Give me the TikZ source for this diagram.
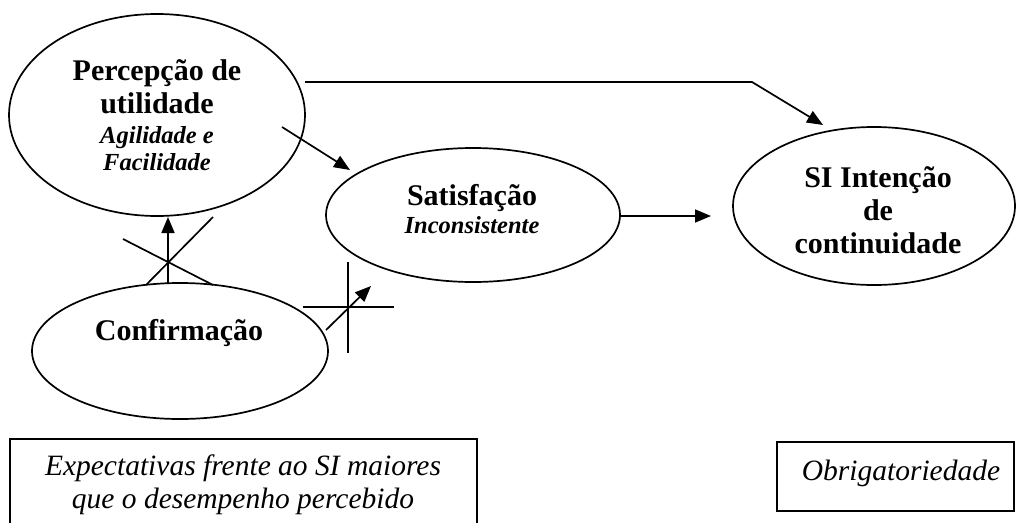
\documentclass[tikz,border=0pt]{standalone}
\usepackage{fontspec}
\setmainfont{Liberation Serif}
\usetikzlibrary{shapes.geometric,arrows.meta}
\begin{document}
\begin{tikzpicture}[x=1pt,y=-1pt,
  oval/.style={draw,ellipse,line width=1.7pt,inner sep=0pt},
  bt/.style={anchor=base,inner sep=0pt,font=\fontsize{30}{33}\selectfont\bfseries},
  bit/.style={anchor=base,inner sep=0pt,font=\fontsize{24.5}{27}\selectfont\bfseries\itshape},
  itx/.style={anchor=base,inner sep=0pt,font=\fontsize{29.5}{33}\selectfont\itshape},
  arr/.style={line width=1.7pt,-{Triangle[length=16pt,width=13pt]}},
  ln/.style={line width=1.7pt},
  boxx/.style={draw,line width=1.7pt}]
\useasboundingbox (0,0) rectangle (1016,522);
\clip (0,0) rectangle (1016,522);
% ellipses
\node[oval,minimum width=296pt,minimum height=202pt] (pu) at (157,115) {};
\node[oval,minimum width=294pt,minimum height=134pt] (sat) at (473,215) {};
\node[oval,minimum width=282pt,minimum height=158pt] (si) at (874,206) {};
\node[oval,minimum width=296pt,minimum height=136pt] (conf) at (180,351) {};
% texts
\node[bt] (t1) at (157,80) {Percepção de};
\node[bt] (t2) at (157,113) {utilidade};
\node[bit] (t3) at (157,143) {Agilidade e};
\node[bit] (t4) at (157,170) {Facilidade};
\node[bt] (t5) at (472,205) {Satisfação};
\node[bit] (t6) at (472,233) {Inconsistente};
\node[bt] (t7) at (878,187) {SI Intenção};
\node[bt] (t8) at (878,220) {de};
\node[bt] (t9) at (878,253) {continuidade};
\node[bt] (t10) at (179,340) {Confirmação};
% boxes
\draw[boxx] (10,560) -- (10,439) -- (477,439) -- (477,560);
\node[itx] (b1) at (243,475) {Expectativas frente ao SI maiores};
\node[itx] (b2) at (243,508) {que o desempenho percebido};
\node[boxx,minimum width=237pt,minimum height=69pt,inner sep=0pt] (ob) at (895.5,476.5) {};
\node[itx] (b3) at (901,480) {Obrigatoriedade};
% connector coordinates
\coordinate (a1s) at (305,82);
\coordinate (a1k) at (752,82);
\coordinate (a1e) at (823,125);
\coordinate (a2s) at (282,127);
\coordinate (a2e) at (350,170);
\coordinate (a3s) at (620,216);
\coordinate (a3e) at (711,216);
\coordinate (a4s) at (168,283);
\coordinate (a4e) at (168,217);
\coordinate (a5s) at (326,330);
\coordinate (a5e) at (371,286);
% connectors
\draw[arr] (a1s) -- (a1k) -- (a1e);
\draw[arr] (a2s) -- (a2e);
\draw[arr] (a3s) -- (a3e);
\draw[arr] (a4s) -- (a4e);
\draw[arr] (a5s) -- (a5e);
% crossings
\draw[ln] (123,239) -- (213,285);
\draw[ln] (146,285) -- (213,217);
\draw[ln] (348,262) -- (348,353);
\draw[ln] (303,307) -- (394,307);
\end{tikzpicture}
\end{document}
